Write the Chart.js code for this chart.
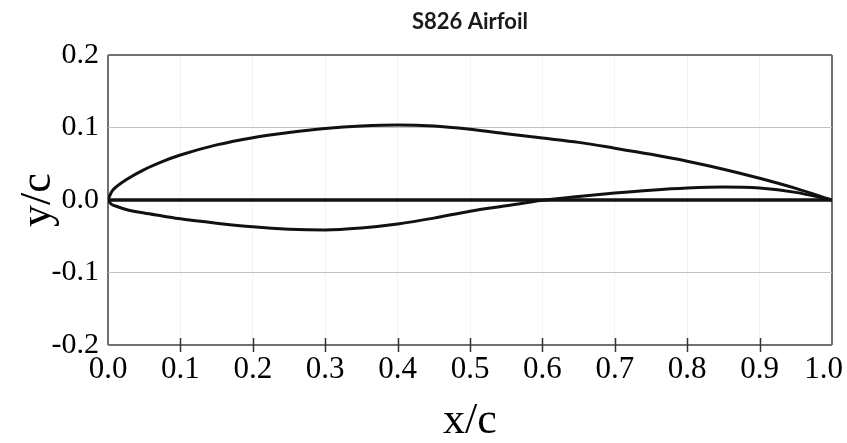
<!DOCTYPE html>
<html>
<head>
<meta charset="utf-8">
<title>S826 Airfoil</title>
<script src="https://cdn.jsdelivr.net/npm/chart.js@4"></script>
<style>
    html, body { margin: 0; padding: 0; background: #fff; }
    #airfoilChart { display: block; }
</style>
</head>
<body>
<canvas id="airfoilChart" width="847" height="443"></canvas>
<script>
// Chordwise stations (x/c) shared by both surfaces
const stations = [0, 0.005, 0.0125, 0.025, 0.05, 0.075, 0.1, 0.15, 0.2, 0.25, 0.3, 0.35, 0.4,
    0.45, 0.5, 0.55, 0.6, 0.65, 0.7, 0.75, 0.8, 0.85, 0.9, 0.95, 1.0];

// Suction side (y/c)
const upperY = [0, 0.0115, 0.019, 0.028, 0.042, 0.053, 0.062, 0.076, 0.086, 0.093, 0.0985, 0.102, 0.1035,
    0.102, 0.0975, 0.0915, 0.0855, 0.0795, 0.0715, 0.063, 0.0535, 0.0425, 0.030, 0.016, 0];

// Pressure side (y/c)
const lowerY = [0, -0.006, -0.009, -0.013, -0.018, -0.022, -0.026, -0.032, -0.037, -0.0402, -0.0413, -0.0385, -0.033,
    -0.025, -0.0155, -0.008, -0.0005, 0.0048, 0.0095, 0.0135, 0.0165, 0.018, 0.0165, 0.0105, 0];

// Chord line
const chordX = [0, 1];
const chordY = [0, 0];

const xTicks = [0, 0.1, 0.2, 0.3, 0.4, 0.5, 0.6, 0.7, 0.8, 0.9, 1.0];
const yTicks = [-0.2, -0.1, 0, 0.1, 0.2];

const chartTitle = 'S826 Airfoil';

const toPoints = (xs, ys) => xs.map((x, i) => ({ x: x, y: ys[i] }));

const frameColor = '#707070';
const serif = '"Liberation Serif", "Times New Roman", serif';

// Title centred over the plot area rather than the whole canvas
const plotTitle = {
    id: 'plotTitle',
    afterDraw(chart) {
        const { ctx, chartArea } = chart;
        ctx.save();
        ctx.fillStyle = '#1a1a1a';
        ctx.font = 'bold 22px Lato, "Open Sans", sans-serif';
        ctx.textAlign = 'center';
        ctx.textBaseline = 'middle';
        ctx.fillText(chartTitle, (chartArea.left + chartArea.right) / 2, 22);
        ctx.restore();
    }
};

// Tick marks crossing the bottom axis, plus the x labels (kept inside the canvas)
const bottomAxis = {
    id: 'bottomAxis',
    afterDatasetsDraw(chart) {
        const { ctx, scales: { x }, chartArea } = chart;
        ctx.save();
        ctx.strokeStyle = '#333';
        ctx.lineWidth = 1.5;
        x.ticks.forEach((t, i) => {
            if (t.value <= 0 || t.value >= 1) return;
            const px = Math.round(x.getPixelForTick(i)) + 0.5;
            ctx.beginPath();
            ctx.moveTo(px, chartArea.bottom - 7);
            ctx.lineTo(px, chartArea.bottom + 7);
            ctx.stroke();
        });

        ctx.fillStyle = '#000';
        ctx.font = '31px ' + serif;
        ctx.textAlign = 'center';
        ctx.textBaseline = 'top';
        x.ticks.forEach((t, i) => {
            const text = t.value.toFixed(1);
            const half = ctx.measureText(text).width / 2;
            const px = Math.min(x.getPixelForTick(i), chart.width - 4 - half);
            ctx.fillText(text, px, chartArea.bottom + 9);
        });
        ctx.restore();
    }
};

const ctx = document.getElementById('airfoilChart').getContext('2d');
new Chart(ctx, {
    type: 'scatter',
    data: {
        datasets: [
            {
                label: 'Upper',
                data: toPoints(stations, upperY),
                showLine: true,
                borderColor: '#111',
                borderWidth: 3,
                pointRadius: 0,
                cubicInterpolationMode: 'monotone'
            },
            {
                label: 'Lower',
                data: toPoints(stations, lowerY),
                showLine: true,
                borderColor: '#111',
                borderWidth: 3,
                pointRadius: 0,
                cubicInterpolationMode: 'monotone'
            },
            {
                label: 'Chord',
                data: toPoints(chordX, chordY),
                showLine: true,
                borderColor: '#111',
                borderWidth: 3.5,
                pointRadius: 0
            }
        ]
    },
    options: {
        responsive: false,
        animation: false,
        devicePixelRatio: 1,
        layout: { padding: { left: 0, right: 15, top: 55, bottom: 0 } },
        plugins: {
            legend: { display: false },
            tooltip: { enabled: false },
            title: { display: false }
        },
        scales: {
            x: {
                type: 'linear',
                min: 0,
                max: 1,
                afterBuildTicks: (scale) => { scale.ticks = xTicks.map(v => ({ value: v })); },
                afterFit: (scale) => {
                    scale.height = 98;
                    scale.paddingLeft = 0;
                    scale.paddingRight = 0;
                },
                border: { display: false },
                grid: {
                    drawTicks: false,
                    color: (c) => (c.tick && (c.tick.value === 0 || c.tick.value === 1)) ? frameColor : '#f4f4f4',
                    lineWidth: (c) => (c.tick && (c.tick.value === 0 || c.tick.value === 1)) ? 2 : 1
                },
                ticks: {
                    display: false,
                    autoSkip: false
                },
                title: {
                    display: true,
                    text: 'x/c',
                    color: '#000',
                    font: { family: serif, size: 44, lineHeight: 1 },
                    padding: { top: 0, bottom: 0 }
                }
            },
            y: {
                type: 'linear',
                min: -0.2,
                max: 0.2,
                afterBuildTicks: (scale) => { scale.ticks = yTicks.map(v => ({ value: v })); },
                afterFit: (scale) => {
                    scale.width = 108;
                    scale.paddingTop = 0;
                    scale.paddingBottom = 0;
                },
                border: { display: false },
                grid: {
                    drawTicks: false,
                    color: (c) => {
                        if (!c.tick) return 'transparent';
                        const v = Math.round(c.tick.value * 10);
                        if (v === 2 || v === -2) return frameColor;
                        if (v === 0) return 'transparent';
                        return '#c2c2c2';
                    },
                    lineWidth: (c) => {
                        if (!c.tick) return 1;
                        const v = Math.round(c.tick.value * 10);
                        return (v === 2 || v === -2) ? 2 : 1;
                    }
                },
                ticks: {
                    color: '#000',
                    padding: 9,
                    autoSkip: false,
                    font: { family: serif, size: 30 },
                    callback: (v) => v.toFixed(1)
                },
                title: {
                    display: true,
                    text: 'y/c',
                    color: '#000',
                    font: { family: serif, size: 44, lineHeight: 1 },
                    padding: { top: 16, bottom: 0 }
                }
            }
        }
    },
    plugins: [plotTitle, bottomAxis]
});
</script>
</body>
</html>
